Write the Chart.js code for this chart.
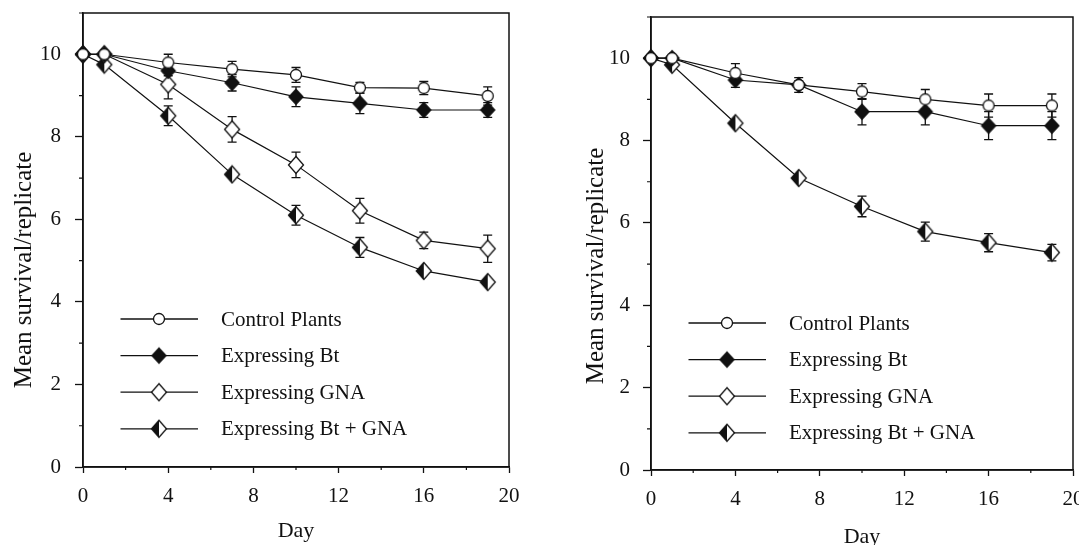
<!DOCTYPE html>
<html>
<head>
<meta charset="utf-8">
<script src="https://cdn.jsdelivr.net/npm/chart.js@4.4.1/dist/chart.umd.min.js"></script>
<style>
  html, body { margin: 0; padding: 0; background: #fff; overflow: hidden; width: 1079px; height: 545px; }
  .panel { position: absolute; top: 0; }
</style>
</head>
<body>
<div class="panel" style="left:0"><canvas id="chartLeft" width="540" height="560"></canvas></div>
<div class="panel" style="left:540px"><canvas id="chartRight" width="560" height="560"></canvas></div>
<script>
// shared axes
const days = [0, 1, 4, 7, 10, 13, 16, 19];
const xTicks = [0, 4, 8, 12, 16, 20];
const yTicks = [0, 2, 4, 6, 8, 10];
const seriesNames = ['Control Plants', 'Expressing Bt', 'Expressing GNA', 'Expressing Bt + GNA'];

// left panel
const leftControl    = [10, 10, 9.80, 9.64, 9.50, 9.19, 9.18, 8.99];
const leftControlErr = [0, 0, 0.20, 0.19, 0.18, 0.13, 0.16, 0.22];
const leftBt         = [10, 10, 9.60, 9.31, 8.97, 8.81, 8.65, 8.65];
const leftBtErr      = [0, 0, 0.12, 0.20, 0.24, 0.25, 0.18, 0.18];
const leftGna        = [10, 10, 9.27, 8.18, 7.32, 6.21, 5.49, 5.29];
const leftGnaErr     = [0, 0, 0.35, 0.31, 0.31, 0.30, 0.20, 0.33];
const leftBtGna      = [10, 9.75, 8.51, 7.09, 6.10, 5.32, 4.75, 4.48];
const leftBtGnaErr   = [0, 0, 0.24, 0.05, 0.24, 0.24, 0.05, 0.05];

// right panel (no separate GNA curve is visible)
const rightControl    = [10, 10, 9.64, 9.35, 9.19, 9.00, 8.85, 8.85];
const rightControlErr = [0, 0, 0.23, 0.18, 0.19, 0.24, 0.28, 0.28];
const rightBt         = [10, 10, 9.47, 9.35, 8.70, 8.70, 8.36, 8.36];
const rightBtErr      = [0, 0, 0.18, 0.10, 0.32, 0.32, 0.34, 0.34];
const rightGna        = [null, null, null, null, null, null, null, null];
const rightGnaErr     = [0, 0, 0, 0, 0, 0, 0, 0];
const rightBtGna      = [10, 9.84, 8.42, 7.09, 6.40, 5.79, 5.52, 5.28];
const rightBtGnaErr   = [0, 0, 0.05, 0.05, 0.25, 0.23, 0.22, 0.20];

const INK = '#111';
const SERIF = '"Liberation Serif", "Times New Roman", serif';
Chart.defaults.font.family = SERIF;
Chart.defaults.color = INK;

// marker images, also reused for the legend
function makeMarker(kind) {
  const c = document.createElement('canvas');
  c.width = 20; c.height = 20;
  const g = c.getContext('2d');
  g.translate(10, 10);
  g.lineWidth = 1.3;
  g.strokeStyle = INK;
  if (kind === 'circle') {
    g.beginPath(); g.arc(0, 0, 5.5, 0, Math.PI * 2);
    g.fillStyle = '#fff'; g.fill(); g.stroke();
    return c;
  }
  const rx = kind === 'filled' ? 7 : 7.5, ry = kind === 'filled' ? 7.5 : 8.5;
  const diamond = () => {
    g.beginPath(); g.moveTo(0, -ry); g.lineTo(rx, 0); g.lineTo(0, ry); g.lineTo(-rx, 0); g.closePath();
  };
  diamond();
  g.fillStyle = kind === 'filled' ? INK : '#fff';
  g.fill();
  if (kind === 'half') {
    g.beginPath(); g.moveTo(0, -ry); g.lineTo(-rx, 0); g.lineTo(0, ry); g.closePath();
    g.fillStyle = INK; g.fill();
  }
  diamond(); g.stroke();
  return c;
}
const markers = ['circle', 'filled', 'open', 'half'].map(makeMarker);

const panelPlugin = {
  id: 'panel',
  beforeDatasetsDraw(chart) {
    const { ctx, chartArea: a, scales: { x, y } } = chart;
    ctx.save();
    ctx.strokeStyle = INK;
    ctx.lineWidth = 1.5;
    ctx.strokeRect(a.left, a.top, a.right - a.left, a.bottom - a.top);

    // minor ticks
    ctx.lineWidth = 1.2;
    ctx.beginPath();
    for (let v = 1; v <= 11; v += 2) {
      const py = y.getPixelForValue(v);
      ctx.moveTo(a.left - 4, py); ctx.lineTo(a.left - 1, py);
    }
    for (let v = 2; v < 20; v += 4) {
      const px = x.getPixelForValue(v);
      ctx.moveTo(px, a.bottom); ctx.lineTo(px, a.bottom + 3);
    }
    ctx.stroke();

    // error bars
    ctx.lineWidth = 1.3;
    chart.data.datasets.forEach((ds, i) => {
      if (!chart.isDatasetVisible(i)) return;
      ds.data.forEach((pt, j) => {
        const e = ds.errors[j];
        if (pt.y == null || !e) return;
        const px = x.getPixelForValue(pt.x);
        const top = y.getPixelForValue(pt.y + e);
        const bot = y.getPixelForValue(pt.y - e);
        ctx.beginPath();
        ctx.moveTo(px, top); ctx.lineTo(px, bot);
        ctx.moveTo(px - 4.5, top); ctx.lineTo(px + 4.5, top);
        ctx.moveTo(px - 4.5, bot); ctx.lineTo(px + 4.5, bot);
        ctx.stroke();
      });
    });
    ctx.restore();
  },
  afterDraw(chart, args, opts) {
    const { ctx, chartArea: a } = chart;
    ctx.save();
    ctx.fillStyle = INK;
    ctx.strokeStyle = INK;

    // legend
    ctx.font = '21px ' + SERIF;
    ctx.textAlign = 'left';
    ctx.textBaseline = 'middle';
    seriesNames.forEach((name, i) => {
      const ly = a.top + opts.legendTop + i * 36.6;
      ctx.lineWidth = 1.3;
      ctx.beginPath();
      ctx.moveTo(a.left + 37.5, ly); ctx.lineTo(a.left + 115, ly);
      ctx.stroke();
      ctx.drawImage(markers[i], a.left + 76 - 10, ly - 10);
      ctx.fillText(name, a.left + 138, ly + 1);
    });

    // axis titles
    ctx.textAlign = 'center';
    ctx.textBaseline = 'alphabetic';
    ctx.font = '22px ' + SERIF;
    ctx.fillText('Day', (a.left + a.right) / 2, a.bottom + opts.dayDrop);

    ctx.font = '25px ' + SERIF;
    ctx.textBaseline = 'middle';
    ctx.translate(a.left - opts.yTitleGap, a.top + opts.yTitleMid);
    ctx.rotate(-Math.PI / 2);
    ctx.fillText('Mean survival/replicate', 0, 0);
    ctx.restore();
  }
};

function buildSets(values, errors) {
  return values.map((vals, i) => ({
    label: seriesNames[i],
    data: days.map((d, j) => ({ x: d, y: vals[j] })),
    errors: errors[i],
    borderColor: INK,
    borderWidth: 1.2,
    pointStyle: markers[i],
    pointRadius: 8,
    pointHoverRadius: 8,
    tension: 0,
    clip: false,
    spanGaps: false
  }));
}

function makeChart(id, datasets, box) {
  const tickFont = { size: 21, family: SERIF };
  new Chart(document.getElementById(id), {
    type: 'line',
    data: { datasets },
    options: {
      responsive: false,
      animation: false,
      events: [],
      layout: { padding: { top: box.top, right: box.right, left: 0, bottom: 0 } },
      plugins: {
        legend: { display: false },
        tooltip: { enabled: false },
        panel: box.panel
      },
      scales: {
        x: {
          type: 'linear', min: 0, max: 20,
          afterBuildTicks: s => { s.ticks = xTicks.map(v => ({ value: v })); },
          afterFit: s => { s.height = box.xHeight; s.paddingLeft = 0; s.paddingRight = 0; },
          ticks: { font: tickFont, color: INK, padding: 11, maxRotation: 0 },
          grid: { drawOnChartArea: false, tickLength: 6, tickColor: INK, tickWidth: 1.3 },
          border: { color: INK, width: 1.5 }
        },
        y: {
          type: 'linear', min: 0, max: 11,
          afterBuildTicks: s => { s.ticks = yTicks.map(v => ({ value: v })); },
          afterFit: s => { s.width = box.yWidth; s.paddingTop = 0; s.paddingBottom = 0; },
          ticks: { font: tickFont, color: INK, padding: box.yPad },
          grid: { drawOnChartArea: false, tickLength: 8, tickColor: INK, tickWidth: 1.3 },
          border: { color: INK, width: 1.5 }
        }
      }
    },
    plugins: [panelPlugin]
  });
}

makeChart('chartLeft',
  buildSets([leftControl, leftBt, leftGna, leftBtGna], [leftControlErr, leftBtErr, leftGnaErr, leftBtGnaErr]),
  { top: 13, right: 31, xHeight: 93, yWidth: 83, yPad: 14,
    panel: { legendTop: 306, dayDrop: 70, yTitleGap: 59, yTitleMid: 257 } });

makeChart('chartRight',
  buildSets([rightControl, rightBt, rightGna, rightBtGna], [rightControlErr, rightBtErr, rightGnaErr, rightBtGnaErr]),
  { top: 17, right: 27, xHeight: 90, yWidth: 111, yPad: 13,
    panel: { legendTop: 306, dayDrop: 73, yTitleGap: 55, yTitleMid: 249 } });
</script>
</body>
</html>
